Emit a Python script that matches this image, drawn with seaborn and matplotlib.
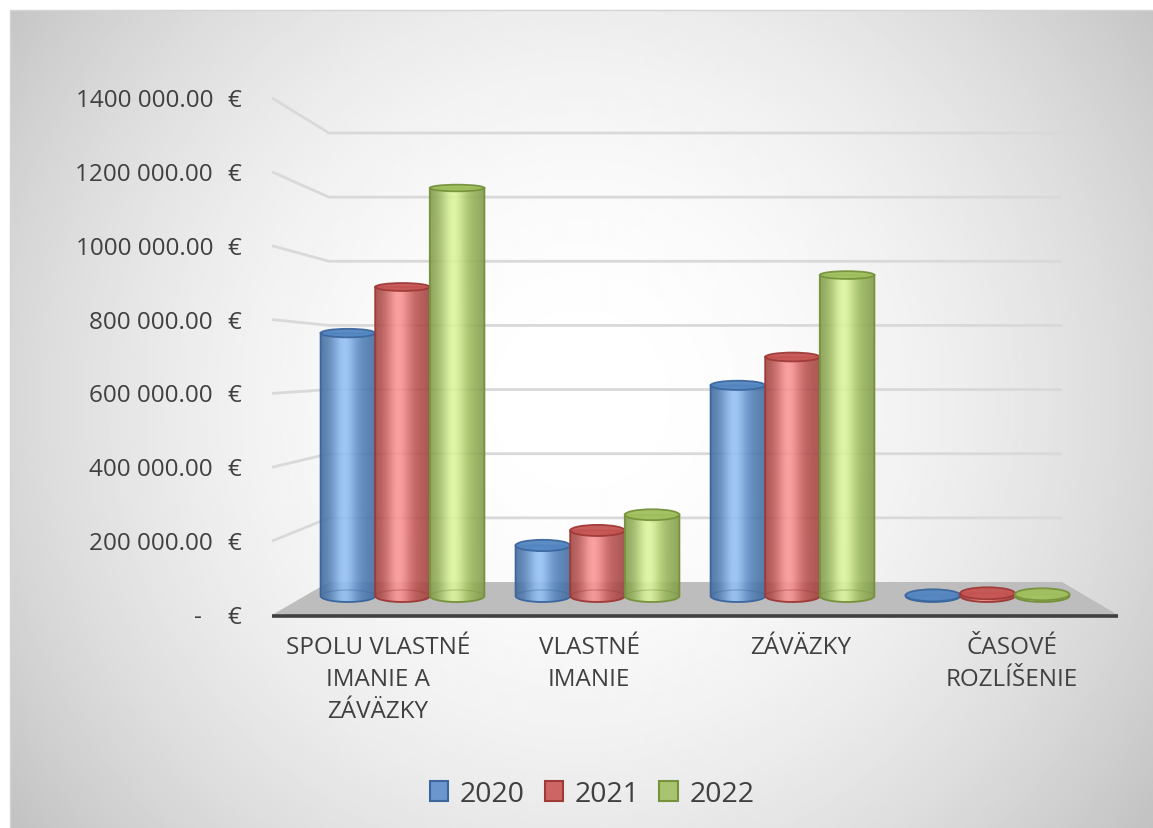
import numpy as np
import pandas as pd
import matplotlib
matplotlib.use("Agg")
import matplotlib.pyplot as plt
import seaborn as sns
from matplotlib.patches import Ellipse, Polygon, Rectangle, PathPatch
from matplotlib.path import Path
from matplotlib.colors import to_rgb

# ---------------- data ----------------
categories = ["SPOLU VLASTNÉ\nIMANIE A\nZÁVÄZKY", "VLASTNÉ\nIMANIE", "ZÁVÄZKY", "ČASOVÉ\nROZLÍŠENIE"]
years = ["2020", "2021", "2022"]
values_2020 = [770000, 148000, 617000, 2000]
values_2021 = [905000, 192000, 700000, 8000]
values_2022 = [1195000, 238000, 940000, 5000]
tick_values = [0, 200000, 400000, 600000, 800000, 1000000, 1200000, 1400000]

df = pd.DataFrame({
    "kategoria": categories * 3,
    "rok": [y for y in years for _ in categories],
    "hodnota": values_2020 + values_2021 + values_2022,
})

# ---------------- style ----------------
sns.set_theme(style="white")
plt.rcParams["font.family"] = ["Open Sans", "DejaVu Sans"]
TXT = "#404040"
FS = 17.5

base_cols = ["#4f81bd", "#c0504d", "#9bbb59"]
light_cols = ["#93c0f5", "#fb9494", "#dcf59c"]
edge_cols = ["#3c679e", "#9e3a37", "#76923c"]
legend_face = ["#6a95cd", "#cc6563", "#a9c46f"]

W, H = 1153, 829
fig = plt.figure(figsize=(W / 100, H / 100), dpi=100, facecolor="white")

# background radial gradient
bg = fig.add_axes([0, 0, 1, 1], zorder=0)
yy, xx = np.mgrid[11:H:2, 10:W:2]
r = np.sqrt((xx - 580) ** 2 + (yy - 400) ** 2) / 705.0
val = np.clip(1 - 0.235 * r ** 2, 0.76, 1.0)
bg.imshow(val, extent=[10, W, H, 11], cmap="gray", vmin=0, vmax=1, aspect="auto",
          interpolation="bilinear")
bg.set_xlim(0, W)
bg.set_ylim(H, 0)
bg.axis("off")
bg.plot([10, 10, W], [H, 11, 11], color="#d4d4d4", lw=1.0)


def px_axes(x0, x1, ytop, ybot, z):
    ax = fig.add_axes([x0 / W, 1 - ybot / H, (x1 - x0) / W, (ybot - ytop) / H], zorder=z)
    ax.set_facecolor("none")
    return ax


back = px_axes(329, 1062, 134, 583, 1)
front = px_axes(272, 1118, 99, 616, 1)
MID_BELOW = 16  # px of room below the bar baseline for the cylinder bottoms
mid = px_axes(305, 1085, 119, 597 + MID_BELOW, 3)
YMIN_MID = -MID_BELOW * 1400000 / 478
for a in (back, front):
    a.set_xlim(-0.5, 3.5)
    a.set_ylim(0, 1400000)
    a.axis("off")

deco = fig.add_axes([0, 0, 1, 1], zorder=2)
deco.set_facecolor("none")
deco.set_xlim(0, W)
deco.set_ylim(H, 0)
deco.axis("off")


def to_px(ax, x, y):
    d = ax.transData.transform((x, y))
    return deco.transData.inverted().transform(d)


# walls / gridlines
for v in tick_values[1:]:
    p1 = to_px(front, -0.5, v)
    p2 = to_px(back, -0.5, v)
    p3 = to_px(back, 3.5, v)
    deco.plot([p1[0], p2[0], p3[0]], [p1[1], p2[1], p3[1]], color="#d9d9d9", lw=2.0,
              solid_capstyle="butt")

# floor
f0 = to_px(front, -0.5, 0)
f1 = to_px(front, 3.5, 0)
b0 = to_px(back, -0.5, 0)
b1 = to_px(back, 3.5, 0)
deco.add_patch(Polygon([f0, b0, b1, f1], closed=True, facecolor="#bdbdbd", edgecolor="none"))
deco.plot([f0[0], f1[0]], [f0[1] + 1, f1[1] + 1], color="#404040", lw=2.6, solid_capstyle="butt")

# y tick labels (front plane)
for v in tick_values:
    p = to_px(front, -0.5, v)
    if v == 0:
        deco.text(198, p[1] + 2, "-", ha="center", va="center", fontsize=FS, color=TXT)
    else:
        s = str(int(v))
        s = s[:-3] + " " + s[-3:] + ".00"
        deco.text(213, p[1] + 2, s, ha="right", va="center", fontsize=FS, color=TXT)
    deco.text(234, p[1] + 2, "€", ha="center", va="center", fontsize=FS, color=TXT)

# category labels
for i, c in enumerate(categories):
    p = to_px(front, i, 0)
    deco.text(p[0], 636, c, ha="center", va="top", fontsize=FS, color=TXT,
              linespacing=1.45)

# ---------------- bars (seaborn) ----------------
sns.barplot(data=df, x="kategoria", y="hodnota", hue="rok", palette=base_cols,
            width=0.84, gap=0, saturation=1, ax=mid)
leg = mid.get_legend()
handles = list(leg.legend_handles)
labels = [t.get_text() for t in leg.get_texts()]
leg.remove()

mid.set_xlim(-0.5, 3.5)
mid.set_ylim(YMIN_MID, 1400000)
mid.axis("off")

per_px = 1400000 / 478
eb = 12 * per_px

t = np.linspace(0, 1, 256)
prof = np.exp(-((t - 0.42) / 0.22) ** 2)
shade = 0.82 + 0.18 * np.sin(np.pi * t)

base_rgb = [np.array(to_rgb(c)) for c in base_cols]

bars = [p for p in mid.patches if isinstance(p, Rectangle) and p.get_width() > 0.05]
for p in list(mid.patches):
    p.set_visible(False)
for k, p in enumerate(bars):
    x0, w, h = p.get_x(), p.get_width(), p.get_height()
    fc = np.array(p.get_facecolor()[:3])
    idx = int(np.argmin([np.sum((fc - b) ** 2) for b in base_rgb]))
    base = np.array(to_rgb(base_cols[idx]))
    light = np.array(to_rgb(light_cols[idx]))
    edge = edge_cols[idx]
    xc = x0 + w / 2
    z = 4 + idx * 0.1 + k * 0.001

    cols = (base[None, :] * (1 - prof[:, None]) + light[None, :] * prof[:, None]) * shade[:, None]
    img = np.concatenate([np.clip(cols, 0, 1), np.full((256, 1), 0.88)], axis=1)[None, :, :]

    th = np.linspace(np.pi, 2 * np.pi, 60)
    arc = np.column_stack([xc + w / 2 * np.cos(th), eb / 2 * np.sin(th)])
    verts = np.vstack([[x0, h], [x0, 0], arc, [x0 + w, 0], [x0 + w, h], [x0, h]])
    path = Path(verts, closed=True)
    clip = PathPatch(path, transform=mid.transData)
    im = mid.imshow(img, extent=[x0, x0 + w, -eb / 2, h], aspect="auto",
                    interpolation="bilinear", zorder=z)
    im.set_clip_path(clip)
    mid.add_patch(PathPatch(path, facecolor="none", edgecolor=edge, lw=1.3, zorder=z + 0.01,
                            clip_on=False))
    # back half of bottom ellipse (seen through)
    th2 = np.linspace(0, np.pi, 60)
    mid.plot(xc + w / 2 * np.cos(th2), eb / 2 * np.sin(th2), color=edge, lw=1.0, alpha=0.35,
             zorder=z + 0.01, clip_on=False)
    # top ellipse
    et = eb * (1 - 0.45 * min(h, 1200000) / 1200000)
    topc = np.clip(base * 0.92 + light * 0.08, 0, 1)
    mid.add_patch(Ellipse((xc, h), w, et, facecolor=topc, edgecolor=edge, lw=1.3,
                          alpha=0.95, zorder=z + 0.02, clip_on=False))

mid.set_xlim(-0.5, 3.5)
mid.set_ylim(YMIN_MID, 1400000)

# legend
for hd, fcol, ecol in zip(handles, legend_face, edge_cols):
    hd.set_facecolor(fcol)
    hd.set_edgecolor(ecol)
    hd.set_linewidth(1.5)
fig.legend(handles, labels, loc="center", bbox_to_anchor=(592 / W, 1 - 795 / H), ncol=3,
           frameon=False, fontsize=20.5, handlelength=0.65, handleheight=0.65,
           handletextpad=0.4, columnspacing=0.7, labelcolor=TXT)

fig.savefig("out.png", dpi=100)
